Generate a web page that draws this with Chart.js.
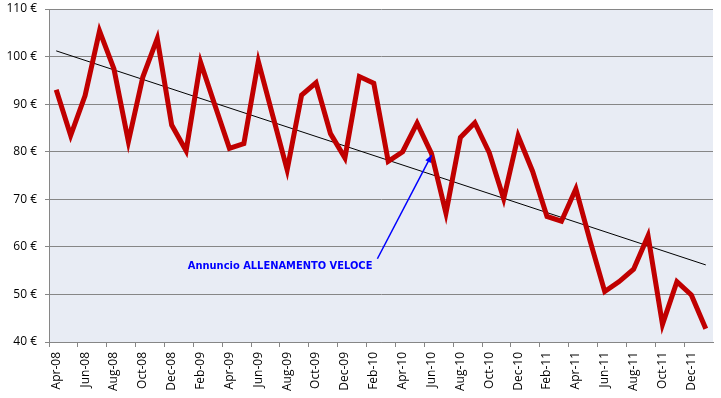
<!DOCTYPE html>
<html>
<head>
<meta charset="utf-8">
<script src="https://cdn.jsdelivr.net/npm/chart.js@4"></script>
<style>
  html, body { margin: 0; padding: 0; background: #fff; }
  #wrap { width: 721px; height: 398px; }
</style>
</head>
<body>
<div id="wrap"><canvas id="chart"></canvas></div>
<script>
const months = [
    "Apr-08", "May-08", "Jun-08", "Jul-08", "Aug-08", "Sep-08", "Oct-08", "Nov-08", "Dec-08",
    "Jan-09", "Feb-09", "Mar-09", "Apr-09", "May-09", "Jun-09", "Jul-09", "Aug-09", "Sep-09", "Oct-09", "Nov-09", "Dec-09",
    "Jan-10", "Feb-10", "Mar-10", "Apr-10", "May-10", "Jun-10", "Jul-10", "Aug-10", "Sep-10", "Oct-10", "Nov-10", "Dec-10",
    "Jan-11", "Feb-11", "Mar-11", "Apr-11", "May-11", "Jun-11", "Jul-11", "Aug-11", "Sep-11", "Oct-11", "Nov-11", "Dec-11",
    "Jan-12"
];

const prices = [
    93.0, 83.4, 91.8, 105.4, 97.4, 82.1, 95.7, 103.8, 85.6,
    80.2, 98.8, 89.7, 80.7, 81.7, 99.0, 87.6, 76.2, 91.9, 94.5, 83.8, 78.7,
    95.8, 94.4, 78.0, 80.0, 86.0, 79.6, 67.1, 83.0, 86.1, 79.8, 70.1, 83.3,
    75.9, 66.4, 65.4, 72.2, 61.1, 50.6, 52.7, 55.3, 62.3, 43.7, 52.7, 49.9,
    42.8
];

// trend line end points (first and last month)
const trendEnds = [101.2, 56.2];

const yTicks = [40, 50, 60, 70, 80, 90, 100, 110];

const note = "Annuncio ALLENAMENTO VELOCE";
const noteTip = { index: 26, value: 79.3 };
const noteTail = { index: 22.25, value: 57.5 };

const trend = months.map((m, i) => {
    if (i === 0) return trendEnds[0];
    if (i === months.length - 1) return trendEnds[1];
    return null;
});

const plotBg = {
    id: 'plotBg',
    beforeDraw(chart) {
        const { ctx, chartArea: a } = chart;
        ctx.save();
        ctx.fillStyle = '#E8ECF4';
        ctx.fillRect(a.left, a.top, a.right - a.left, a.bottom - a.top);
        ctx.restore();
    }
};

const arrowNote = {
    id: 'arrowNote',
    afterDatasetsDraw(chart) {
        const { ctx, scales } = chart;
        const x1 = scales.x.getPixelForValue(noteTail.index);
        const y1 = scales.y.getPixelForValue(noteTail.value);
        const x2 = scales.x.getPixelForValue(noteTip.index);
        const y2 = scales.y.getPixelForValue(noteTip.value);
        ctx.save();
        ctx.strokeStyle = '#0000FF';
        ctx.fillStyle = '#0000FF';
        ctx.lineWidth = 1.5;
        ctx.beginPath();
        ctx.moveTo(x1, y1);
        ctx.lineTo(x2, y2);
        ctx.stroke();
        const ang = Math.atan2(y2 - y1, x2 - x1);
        const len = 8;
        ctx.beginPath();
        ctx.moveTo(x2, y2);
        ctx.lineTo(x2 - len * Math.cos(ang - 0.4), y2 - len * Math.sin(ang - 0.4));
        ctx.lineTo(x2 - len * Math.cos(ang + 0.4), y2 - len * Math.sin(ang + 0.4));
        ctx.closePath();
        ctx.fill();
        ctx.font = 'bold 11px "DejaVu Sans Condensed", "DejaVu Sans", sans-serif';
        ctx.textAlign = 'right';
        ctx.textBaseline = 'middle';
        ctx.fillText(note, x1 - 5, y1 + 7);
        ctx.restore();
    }
};

new Chart(document.getElementById('chart'), {
    type: 'line',
    data: {
        labels: months,
        datasets: [{
            label: 'Prezzo',
            data: prices,
            borderColor: '#C00000',
            borderWidth: 5,
            pointRadius: 0,
            tension: 0,
            borderJoinStyle: 'miter',
        }, {
            label: 'Tendenza',
            data: trend,
            borderColor: '#000000',
            borderWidth: 1,
            pointRadius: 0,
            spanGaps: true,
        }],
    },
    options: {
        responsive: true,
        maintainAspectRatio: false,
        animation: false,
        layout: { padding: { left: 0, right: 8, top: 9, bottom: 0 } },
        plugins: {
            legend: { display: false },
            tooltip: { enabled: false },
        },
        scales: {
            x: {
                offset: true,
                grid: {
                    offset: true,
                    drawOnChartArea: false,
                    tickLength: 5,
                    color: ctx => (ctx.index % 2 === 0 ? '#868686' : 'rgba(0,0,0,0)'),
                },
                border: { color: '#868686', width: 1 },
                ticks: {
                    autoSkip: false,
                    maxRotation: 90,
                    minRotation: 90,
                    padding: 5,
                    color: '#000',
                    font: { family: '"Open Sans", sans-serif', size: 12 },
                    callback: (v, i) => (i % 2 === 0 ? months[i] : ''),
                },
                afterFit: s => { s.height = 56; s.paddingLeft = 0; s.paddingRight = 0; },
            },
            y: {
                min: yTicks[0],
                max: yTicks[yTicks.length - 1],
                afterBuildTicks: s => { s.ticks = yTicks.map(v => ({ value: v })); },
                grid: { color: '#868686', lineWidth: 1, tickLength: 4 },
                border: { color: '#868686', width: 1 },
                ticks: {
                    padding: 8,
                    color: '#000',
                    font: { family: '"Open Sans", sans-serif', size: 12 },
                    callback: v => v + ' €',
                },
                afterFit: s => { s.width = 49; s.paddingTop = 0; s.paddingBottom = 0; },
            },
        },
    },
    plugins: [plotBg, arrowNote],
});
</script>
</body>
</html>
